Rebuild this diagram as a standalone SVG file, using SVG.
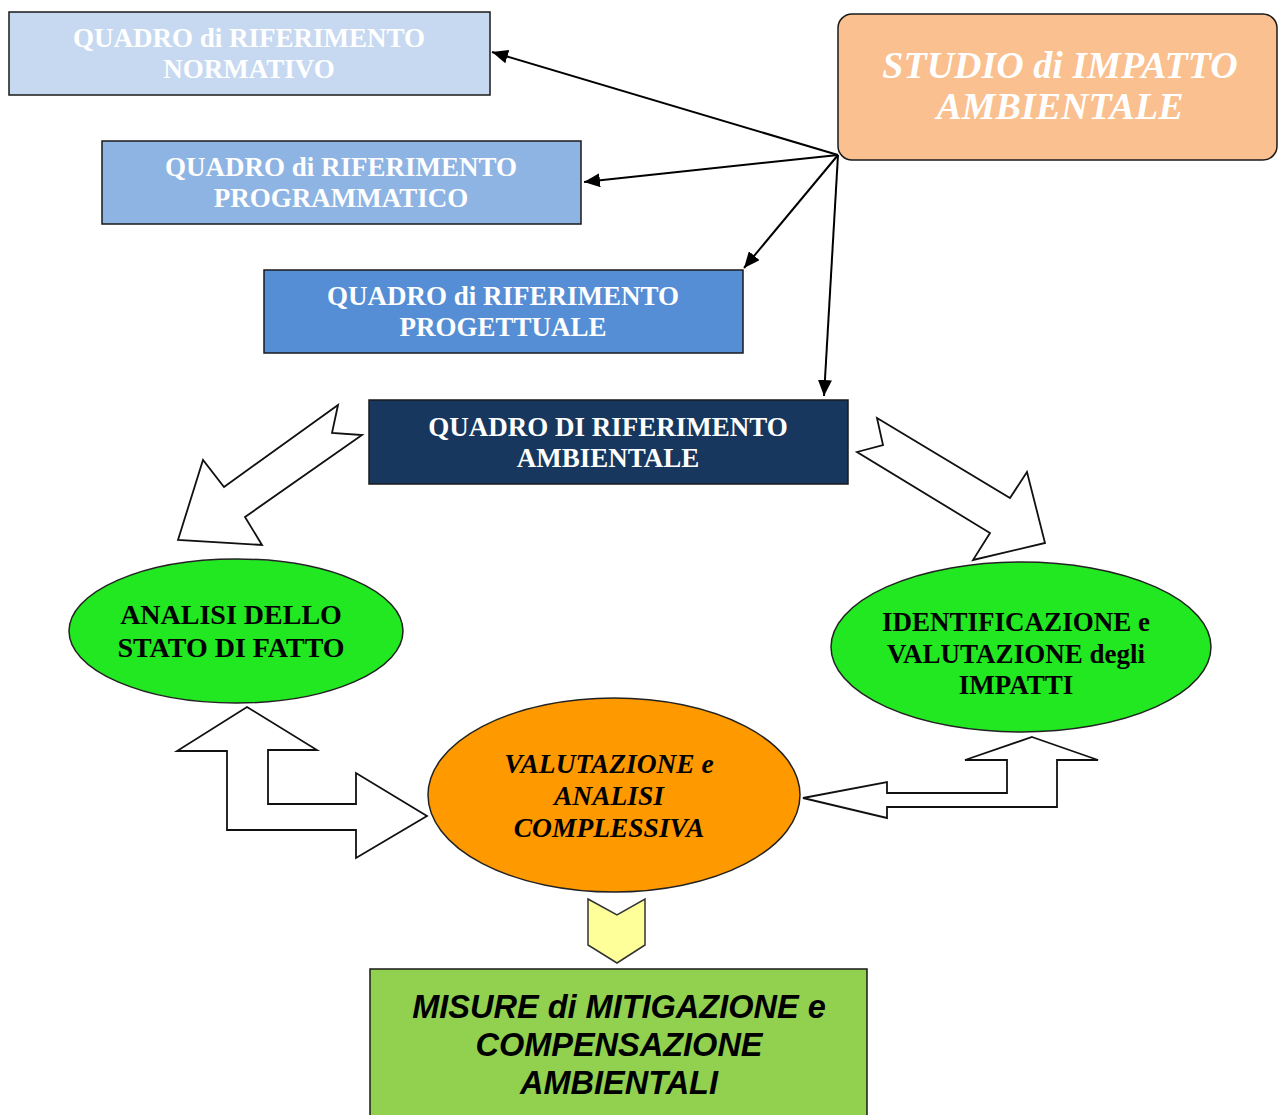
<svg xmlns="http://www.w3.org/2000/svg" width="1278" height="1115" viewBox="0 0 1278 1115">
<defs>
<marker id="ah" markerUnits="userSpaceOnUse" markerWidth="18" markerHeight="14" refX="16" refY="7" orient="auto">
<path d="M0,0 L16,7 L0,14 z" fill="#000"/>
</marker>
<style>
.box{stroke:#1a1a1a;stroke-width:1.5}
.t{font-family:"Liberation Serif","Times New Roman",serif;font-weight:bold;font-size:27px;text-anchor:middle}
.w{fill:#fff}
.k{fill:#000}
.it{font-style:italic}
.ell{stroke:#222;stroke-width:1.5}
.blk{fill:#fff;stroke:#111;stroke-width:1.8;stroke-linejoin:miter}
.ln{stroke:#000;stroke-width:2;fill:none;marker-end:url(#ah)}
</style>
</defs>
<rect width="1278" height="1115" fill="#fff"/>

<g id="normativo">
<rect class="box" x="9" y="12" width="481" height="83" fill="#C6D9F1"/>
<text class="t w" x="249" y="47">QUADRO di RIFERIMENTO</text>
<text class="t w" x="249" y="78">NORMATIVO</text>
</g>
<g id="programmatico">
<rect class="box" x="102" y="141" width="479" height="83" fill="#8EB4E3"/>
<text class="t w" x="341" y="176">QUADRO di RIFERIMENTO</text>
<text class="t w" x="341" y="207">PROGRAMMATICO</text>
</g>
<g id="progettuale">
<rect class="box" x="264" y="270" width="479" height="83" fill="#558ED5"/>
<text class="t w" x="503" y="305">QUADRO di RIFERIMENTO</text>
<text class="t w" x="503" y="336">PROGETTUALE</text>
</g>
<g id="ambientale">
<rect class="box" x="369" y="400" width="479" height="84" fill="#17375E"/>
<text class="t w" x="608" y="436">QUADRO DI RIFERIMENTO</text>
<text class="t w" x="608" y="467">AMBIENTALE</text>
</g>
<g id="studio">
<rect class="box" x="838" y="14" width="439" height="146" rx="14" fill="#FAC090"/>
<text class="t w it" x="1060" y="78" style="font-size:38px">STUDIO di IMPATTO</text>
<text class="t w it" x="1060" y="119" style="font-size:38px">AMBIENTALE</text>
</g>

<g id="connectors">
<line class="ln" x1="838" y1="155" x2="492" y2="52"/>
<line class="ln" x1="838" y1="155" x2="584" y2="182"/>
<line class="ln" x1="838" y1="155" x2="744" y2="268"/>
<line class="ln" x1="838" y1="155" x2="824" y2="396"/>
<polygon class="blk" points="338,405 224,487 203,460 178,540 262,545 245,517 362,435 332,433"/>
<polygon class="blk" points="877,418 1010,498 1027,472 1045,543 973,560 990,533 857,452 883,445"/>
<polygon class="blk" points="247,707 317,750 268,750 268,804 356,804 356,773 427,816 356,858 356,830 227,830 227,751 177,751"/>
<polygon class="blk" points="1032,737 1098,760 1057,760 1057,807 887,807 887,818 803,798 887,782 887,793 1007,793 1007,760 965,760"/>
<polygon points="588,899 617,915 645,899 645,945 617,963 588,945" fill="#FFFF99" stroke="#333" stroke-width="1.5"/>
</g>

<g id="analisi">
<ellipse class="ell" cx="236" cy="631" rx="167" ry="72" fill="#22E822"/>
<text class="t k" x="231" y="624" style="font-size:28px">ANALISI DELLO</text>
<text class="t k" x="231" y="657" style="font-size:28px">STATO DI FATTO</text>
</g>
<g id="identificazione">
<ellipse class="ell" cx="1021" cy="647" rx="190" ry="85" fill="#22E822"/>
<text class="t k" x="1016" y="631" style="font-size:27px">IDENTIFICAZIONE e</text>
<text class="t k" x="1016" y="663" style="font-size:27px">VALUTAZIONE degli</text>
<text class="t k" x="1016" y="694" style="font-size:27px">IMPATTI</text>
</g>
<g id="valutazione">
<ellipse class="ell" cx="614" cy="795" rx="186" ry="97" fill="#FF9900"/>
<text class="t k it" x="609" y="773" style="font-size:27.5px">VALUTAZIONE e</text>
<text class="t k it" x="609" y="805" style="font-size:27.5px">ANALISI</text>
<text class="t k it" x="609" y="837" style="font-size:27.5px">COMPLESSIVA</text>
</g>
<g id="misure">
<rect class="box" x="370" y="969" width="497" height="160" fill="#92D050"/>
<text x="619" y="1018" text-anchor="middle" font-family="'Liberation Sans',Arial,sans-serif" font-weight="bold" font-style="italic" font-size="32.5" fill="#000">MISURE di MITIGAZIONE e</text>
<text x="619" y="1056" text-anchor="middle" font-family="'Liberation Sans',Arial,sans-serif" font-weight="bold" font-style="italic" font-size="32.5" fill="#000">COMPENSAZIONE</text>
<text x="619" y="1094" text-anchor="middle" font-family="'Liberation Sans',Arial,sans-serif" font-weight="bold" font-style="italic" font-size="32.5" fill="#000">AMBIENTALI</text>
</g>
</svg>
